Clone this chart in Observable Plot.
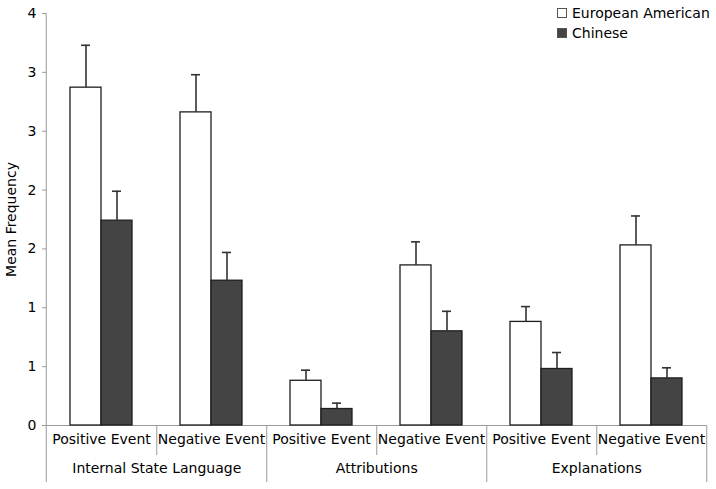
<!DOCTYPE html>
<html>
<head>
<meta charset="utf-8">
<script src="https://cdn.jsdelivr.net/npm/d3@7"></script>
<script src="https://cdn.jsdelivr.net/npm/@observablehq/plot@0.6"></script>
<style>
  html, body { margin: 0; padding: 0; background: #fff; overflow: hidden; }
  #wrap { position: relative; width: 716px; height: 489px; overflow: hidden; font-family: "DejaVu Sans", Verdana, sans-serif; }
  #legend { position: absolute; left: 557px; top: 3px; font-size: 14px; color: #000; white-space: nowrap; }
  .row { display: flex; align-items: center; height: 20px; }
  .sw { width: 10px; height: 10px; margin-right: 5px; box-sizing: border-box; }
</style>
</head>
<body>
<div id="wrap"><div id="legend"></div></div>
<script>
const groups = ["Internal State Language", "Attributions", "Explanations"];
const events = ["Positive Event", "Negative Event"];
const seriesNames = ["European American", "Chinese"];
const seriesColors = ["#ffffff", "#444444"];
const euroMeans = [2.87, 2.66, 0.38, 1.36, 0.88, 1.53];
const euroErr = [0.36, 0.32, 0.09, 0.20, 0.13, 0.25];
const chineseMeans = [1.74, 1.23, 0.14, 0.80, 0.48, 0.40];
const chineseErr = [0.25, 0.24, 0.05, 0.17, 0.14, 0.09];
const yTicks = [0, 0.5, 1, 1.5, 2, 2.5, 3, 3.5];
const yTickLabels = ["0", "1", "1", "2", "2", "3", "3", "4"];

const slots = [];
groups.forEach(g => events.forEach(e => slots.push(g + "|" + e)));
const data = [];
slots.forEach((s, i) => {
  data.push({slot: s, series: seriesNames[0], value: euroMeans[i], err: euroErr[i]});
  data.push({slot: s, series: seriesNames[1], value: chineseMeans[i], err: chineseErr[i]});
});
const posSlots = slots.filter(s => s.endsWith(events[0]));
const negSlots = slots.filter(s => s.endsWith(events[1]));

const W = 716, H = 489, mL = 44, mR = 9, mT = 13, mB = 64;
const step = (W - mL - mR) / slots.length;
const axisGray = "#9a9a9a";

const chart = Plot.plot({
  width: W, height: H,
  marginLeft: mL, marginRight: mR, marginTop: mT, marginBottom: mB,
  style: {fontFamily: "DejaVu Sans, Verdana, sans-serif", fontSize: "14px", color: "#000", background: "#fff"},
  fx: {domain: slots, padding: 0, label: null},
  x: {domain: seriesNames, paddingInner: 0, paddingOuter: 0.72, axis: null},
  y: {domain: [0, 3.5], label: null},
  color: {domain: seriesNames, range: seriesColors},
  marks: [
    Plot.axisY({ticks: yTicks, tickFormat: d => yTickLabels[yTicks.indexOf(d)], tickSize: 4, tickPadding: 6,
      stroke: axisGray, fill: "#000", label: "Mean Frequency", labelAnchor: "center", labelArrow: "none", labelOffset: 40}),
    Plot.ruleY([0], {stroke: axisGray}),
    Plot.barY(data, {fx: "slot", x: "series", y: "value", fill: "series", stroke: "#1e1e1e", strokeWidth: 1.3}),
    Plot.ruleX(data, {fx: "slot", x: "series", y1: "value", y2: d => d.value + d.err, stroke: "#333", strokeWidth: 1.6}),
    Plot.tickY(data, {fx: "slot", x: "series", y: d => d.value + d.err, stroke: "#333", strokeWidth: 1.6, insetLeft: 11, insetRight: 11}),
    // event labels
    Plot.axisFx({anchor: "bottom", ticks: slots, tickSize: 0, tickPadding: 9, tickFormat: d => d.split("|")[1], fill: "#000", label: null}),
    // group labels
    Plot.axisFx({anchor: "bottom", ticks: posSlots, tickSize: 0, tickPadding: 38, dx: step / 2, tickFormat: d => d.split("|")[0], fill: "#000", label: null}),
    // dividers between events
    Plot.axisFx({anchor: "bottom", ticks: posSlots, tickSize: 30, dx: step / 2, tickFormat: () => "", stroke: axisGray, label: null}),
    // dividers between groups and at right end
    Plot.axisFx({anchor: "bottom", ticks: negSlots, tickSize: 57, dx: step / 2, tickFormat: () => "", stroke: axisGray, label: null}),
    // y axis line, extended below the baseline
    Plot.axisFx({anchor: "bottom", ticks: [slots[0]], tickSize: 57, dx: -step / 2, tickFormat: () => "", stroke: axisGray, label: null}),
    Plot.axisFx({anchor: "bottom", ticks: [slots[0]], tickSize: -(H - mT - mB), dx: -step / 2, tickFormat: () => "", stroke: axisGray, label: null})
  ]
});
document.getElementById("wrap").prepend(chart);

const legend = document.getElementById("legend");
seriesNames.forEach((name, i) => {
  const row = document.createElement("div");
  row.className = "row";
  const sw = document.createElement("span");
  sw.className = "sw";
  sw.style.background = seriesColors[i];
  sw.style.border = "1px solid #555";
  row.appendChild(sw);
  const t = document.createElement("span");
  t.textContent = name;
  row.appendChild(t);
  legend.appendChild(row);
});
</script>
</body>
</html>
